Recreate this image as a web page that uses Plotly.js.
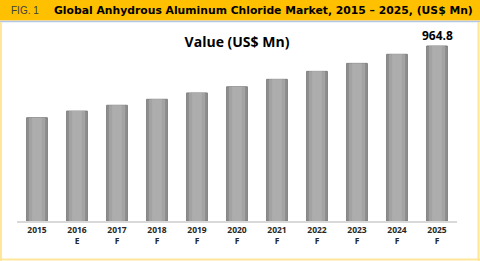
<!DOCTYPE html>
<html><head><meta charset="utf-8">
<script src="https://cdn.plot.ly/plotly-3.0.1.min.js"></script>
<style>html,body{margin:0;padding:0;background:#fff;}#chart{width:480px;height:261px;}</style>
</head><body><div id="chart"></div>
<script>
const years = ["2015","2016","2017","2018","2019","2020","2021","2022","2023","2024","2025"];
const suffixes = ["","E","F","F","F","F","F","F","F","F","F"];
const values = [569.5, 606, 638, 671, 706, 740, 781, 825, 869, 919, 964.8];
const figLabel = "FIG. 1";
const headerTitle = "Global Anhydrous Aluminum Chloride Market, 2015 \u2013 2025, (US$ Mn)";
const chartTitle = "Value (US$ Mn)";

const tickText = years.map((y,i)=> suffixes[i] ? y + "<br>" + suffixes[i] : y);
const idx = years.map((_,i)=>i);

function layer(width, color, lineColor){
  return {type:"bar", x: idx, y: values, width: width,
    marker:{color: color, line:{color: lineColor||color, width: lineColor?1:0}},
    hoverinfo:"skip", showlegend:false};
}
const traces = [
  layer(0.52, "#8f8f8f", "#7f7f7f"),
  layer(0.40, "#a3a3a3"),
  layer(0.24, "#adadad")
];

const last = values.length-1;
const layout = {
  width:480, height:261,
  margin:{l:17, r:23, t:30, b:40},
  paper_bgcolor:"#ffffff", plot_bgcolor:"#ffffff",
  barmode:"overlay",
  showlegend:false,
  xaxis:{range:[-0.5, 10.5], tickmode:"array", tickvals: idx, ticktext: tickText,
    showgrid:false, zeroline:false, showline:true, linecolor:"#d9d9d9", linewidth:2,
    ticks:"", tickfont:{family:"Open Sans, Liberation Sans, sans-serif", size:8.5, color:"#262626", weight:"bold"}},
  yaxis:{range:[0,1053], visible:false, showgrid:false, zeroline:false},
  title:{text:"<b>"+chartTitle+"</b>", x:0.5, xref:"paper", xanchor:"center", y:1-42/261, yanchor:"middle",
    font:{family:"Open Sans, Liberation Sans, sans-serif", size:14, color:"#000"}},
  shapes:[
    {type:"rect", xref:"paper", yref:"paper", x0:-17/440, x1:463/440, y0:1+(30-20.5)/191, y1:1+30/191+0.1,
      fillcolor:"#FFC000", line:{width:0}, layer:"below"},
    {type:"line", xref:"paper", yref:"paper", x0:-17/440, x1:463/440, y0:1+(30-21.5)/191, y1:1+(30-21.5)/191,
      line:{color:"#B4C7E7", width:1.5}},
    {type:"line", xref:"paper", yref:"paper", x0:-16/440, x1:-16/440, y0:-40/191, y1:1+(30-22)/191,
      line:{color:"#FFE699", width:2}},
    {type:"line", xref:"paper", yref:"paper", x0:461.5/440, x1:461.5/440, y0:-40/191, y1:1+(30-22)/191,
      line:{color:"#FFE699", width:2}},
    {type:"line", xref:"paper", yref:"paper", x0:-17/440, x1:463/440, y0:-38.5/191, y1:-38.5/191,
      line:{color:"#FFE699", width:2}}
  ],
  annotations:[
    {x:last, y:values[last], xref:"x", yref:"y", text:"<b>"+values[last].toFixed(1)+"</b>", showarrow:false,
      yanchor:"bottom", yshift:0, font:{family:"Open Sans, Liberation Sans, sans-serif", size:12, color:"#000"}},
    {xref:"paper", yref:"paper", x:-8/440, y:1+(30-10.5)/191, xanchor:"left", yanchor:"middle", showarrow:false,
      text:figLabel, font:{family:"Liberation Sans, Arial, sans-serif", size:10, color:"#404040"}},
    {xref:"paper", yref:"paper", x:35/440, y:1+(30-10.5)/191, xanchor:"left", yanchor:"middle", showarrow:false,
      text:"<b>"+headerTitle+"</b>", font:{family:"DejaVu Sans, Verdana, sans-serif", size:10.8, color:"#000"}}
  ]
};
Plotly.newPlot("chart", traces, layout, {staticPlot:true, displayModeBar:false});
</script></body></html>
